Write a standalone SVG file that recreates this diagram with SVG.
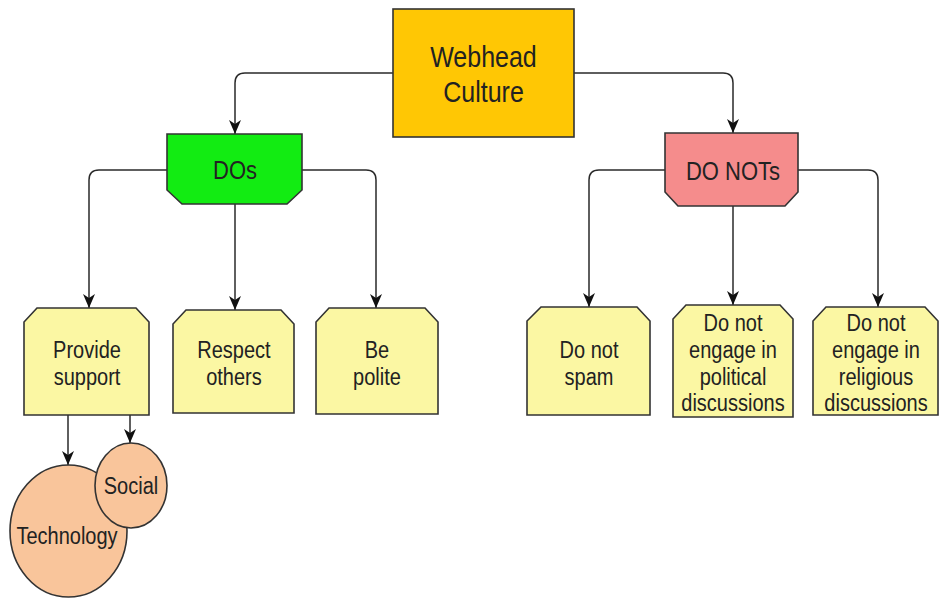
<svg xmlns="http://www.w3.org/2000/svg" width="940" height="599" viewBox="0 0 940 599">
  <style>
    .box { stroke: #333333; stroke-width: 1.6; stroke-linejoin: miter; }
    .root { fill: #FFC704; }
    .dos { fill: #12EC12; }
    .donots { fill: #F58C8C; }
    .item { fill: #FBF7A3; }
    .topic { fill: #F9C59B; }
    .edge { fill: none; stroke: #2a2a2a; stroke-width: 1.5; marker-end: url(#arrow); }
    .lbl { font-family: "Liberation Sans", Arial, sans-serif; fill: #222222; text-anchor: middle; dominant-baseline: central; transform-box: fill-box; transform-origin: center; transform: scaleY(1.15); }
    .big { font-size: 25px; }
    .mid { font-size: 22px; }
    .sm { font-size: 20px; }
  </style>
  <defs>
    <marker id="arrow" markerUnits="userSpaceOnUse" viewBox="0 0 14 12" refX="14" refY="6" markerWidth="14" markerHeight="12" orient="auto">
      <path d="M0,0 L14,6 L0,12 L4,6 z" fill="#111111"/>
    </marker>
  </defs>

  <!-- connectors -->
  <g id="connectors">
    <path class="edge" d="M393,73 H245 Q235,73 235,83 V134"/>
    <path class="edge" d="M574,73 H723 Q733,73 733,83 V133"/>
    <path class="edge" d="M167,170 H99 Q89,170 89,180 V308"/>
    <path class="edge" d="M235,204 V310"/>
    <path class="edge" d="M302,170 H366 Q376,170 376,180 V308"/>
    <path class="edge" d="M665,170 H599 Q589,170 589,180 V307"/>
    <path class="edge" d="M733,206 V305"/>
    <path class="edge" d="M798,170 H868 Q878,170 878,180 V307"/>
    <path class="edge" d="M68,415 V465"/>
    <path class="edge" d="M130,415 V443"/>
  </g>

  <!-- root -->
  <g id="webhead-culture">
    <rect class="box root" x="393" y="9" width="181" height="128"/>
    <text class="lbl big" x="483.5" y="57">Webhead</text>
    <text class="lbl big" x="483.5" y="92">Culture</text>
  </g>

  <!-- category nodes -->
  <g id="dos">
    <path class="box dos" d="M167,134 H302 V190 L287,204 H182 L167,190 Z"/>
    <text class="lbl mid" x="235" y="170">DOs</text>
  </g>
  <g id="do-nots">
    <path class="box donots" d="M665,133 H798 V192 L785,206 H678 L665,192 Z"/>
    <text class="lbl mid" x="733" y="171">DO NOTs</text>
  </g>

  <!-- DO items -->
  <g id="provide-support">
    <path class="box item" d="M37,308 H136 L149,322 V415 H24 V322 Z"/>
    <text class="lbl sm" x="87" y="350">Provide</text>
    <text class="lbl sm" x="87" y="376.5">support</text>
  </g>
  <g id="respect-others">
    <path class="box item" d="M186,310 H281 L294,324 V413 H173 V324 Z"/>
    <text class="lbl sm" x="234" y="350">Respect</text>
    <text class="lbl sm" x="234" y="376.5">others</text>
  </g>
  <g id="be-polite">
    <path class="box item" d="M329,308 H425 L438,322 V414 H316 V322 Z"/>
    <text class="lbl sm" x="377" y="350">Be</text>
    <text class="lbl sm" x="377" y="376.5">polite</text>
  </g>

  <!-- DO NOT items -->
  <g id="do-not-spam">
    <path class="box item" d="M541,307 H637 L650,321 V415 H527 V321 Z"/>
    <text class="lbl sm" x="589" y="350">Do not</text>
    <text class="lbl sm" x="589" y="377">spam</text>
  </g>
  <g id="no-political">
    <path class="box item" d="M686,305 H780 L793,319 V417 H673 V319 Z"/>
    <text class="lbl sm" x="733" y="323">Do not</text>
    <text class="lbl sm" x="733" y="350">engage in</text>
    <text class="lbl sm" x="733" y="377">political</text>
    <text class="lbl sm" x="733" y="403">discussions</text>
  </g>
  <g id="no-religious">
    <path class="box item" d="M826,307 H925 L938,321 V415 H813 V321 Z"/>
    <text class="lbl sm" x="876" y="323">Do not</text>
    <text class="lbl sm" x="876" y="350">engage in</text>
    <text class="lbl sm" x="876" y="377">religious</text>
    <text class="lbl sm" x="876" y="403">discussions</text>
  </g>

  <!-- support topics -->
  <g id="technology">
    <ellipse class="box topic" cx="68.5" cy="531" rx="58.5" ry="66"/>
    <text class="lbl sm" x="67" y="536">Technology</text>
  </g>
  <g id="social">
    <ellipse class="box topic" cx="131" cy="485.5" rx="36" ry="42.5"/>
    <text class="lbl sm" x="131" y="486">Social</text>
  </g>
</svg>
